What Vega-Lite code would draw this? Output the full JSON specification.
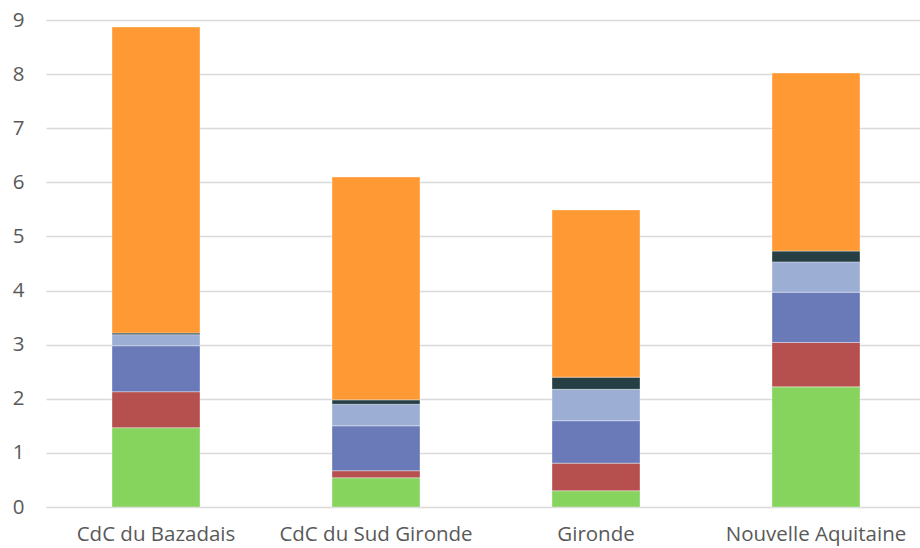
{
  "$schema": "https://vega.github.io/schema/vega-lite/v6.json",
  "width": 880,
  "height": 487,
  "autosize": {"type": "none"},
  "padding": {"left": 46, "top": 20, "right": 0, "bottom": 41},
  "background": "white",
  "config": {"view": {"stroke": null}},
  "data": {
    "values": [
      {"zone": "CdC du Bazadais", "seg": "a", "order": 1, "value": 1.465},
      {"zone": "CdC du Bazadais", "seg": "b", "order": 2, "value": 0.665},
      {"zone": "CdC du Bazadais", "seg": "c", "order": 3, "value": 0.85},
      {"zone": "CdC du Bazadais", "seg": "d", "order": 4, "value": 0.205},
      {"zone": "CdC du Bazadais", "seg": "e", "order": 5, "value": 0.03},
      {"zone": "CdC du Bazadais", "seg": "f", "order": 6, "value": 5.655},
      {"zone": "CdC du Sud Gironde", "seg": "a", "order": 1, "value": 0.54},
      {"zone": "CdC du Sud Gironde", "seg": "b", "order": 2, "value": 0.13},
      {"zone": "CdC du Sud Gironde", "seg": "c", "order": 3, "value": 0.83},
      {"zone": "CdC du Sud Gironde", "seg": "d", "order": 4, "value": 0.40},
      {"zone": "CdC du Sud Gironde", "seg": "e", "order": 5, "value": 0.08},
      {"zone": "CdC du Sud Gironde", "seg": "f", "order": 6, "value": 4.12},
      {"zone": "Gironde", "seg": "a", "order": 1, "value": 0.30},
      {"zone": "Gironde", "seg": "b", "order": 2, "value": 0.51},
      {"zone": "Gironde", "seg": "c", "order": 3, "value": 0.785},
      {"zone": "Gironde", "seg": "d", "order": 4, "value": 0.58},
      {"zone": "Gironde", "seg": "e", "order": 5, "value": 0.225},
      {"zone": "Gironde", "seg": "f", "order": 6, "value": 3.09},
      {"zone": "Nouvelle Aquitaine", "seg": "a", "order": 1, "value": 2.22},
      {"zone": "Nouvelle Aquitaine", "seg": "b", "order": 2, "value": 0.82},
      {"zone": "Nouvelle Aquitaine", "seg": "c", "order": 3, "value": 0.93},
      {"zone": "Nouvelle Aquitaine", "seg": "d", "order": 4, "value": 0.56},
      {"zone": "Nouvelle Aquitaine", "seg": "e", "order": 5, "value": 0.20},
      {"zone": "Nouvelle Aquitaine", "seg": "f", "order": 6, "value": 3.29}
    ]
  },
  "mark": {"type": "bar", "stroke": "#ffffff", "strokeWidth": 0.6, "strokeOpacity": 0.6},
  "encoding": {
    "x": {
      "field": "zone",
      "type": "nominal",
      "sort": null,
      "scale": {"paddingInner": 0.6, "paddingOuter": 0.3},
      "axis": {
        "title": null,
        "labelAngle": 0,
        "domain": false,
        "ticks": false,
        "labelFont": "Open Sans",
        "labelFontSize": 20.5,
        "labelColor": "#595959",
        "labelPadding": 17,
        "labelLimit": 400,
        "labelOverlap": false
      }
    },
    "y": {
      "field": "value",
      "type": "quantitative",
      "stack": "zero",
      "scale": {"domain": [0, 9], "nice": false},
      "axis": {
        "title": null,
        "values": [0, 1, 2, 3, 4, 5, 6, 7, 8, 9],
        "domain": false,
        "ticks": false,
        "gridColor": "#d9d9d9",
        "gridWidth": 1.3,
        "labelFont": "Open Sans",
        "labelFontSize": 20.5,
        "labelColor": "#595959",
        "labelPadding": 22
      }
    },
    "color": {
      "field": "seg",
      "type": "nominal",
      "legend": null,
      "scale": {
        "domain": ["a", "b", "c", "d", "e", "f"],
        "range": ["#86d35e", "#b5504f", "#6a7ab9", "#9daed5", "#253f45", "#ff9933"]
      }
    },
    "order": {"field": "order", "type": "quantitative"}
  }
}
